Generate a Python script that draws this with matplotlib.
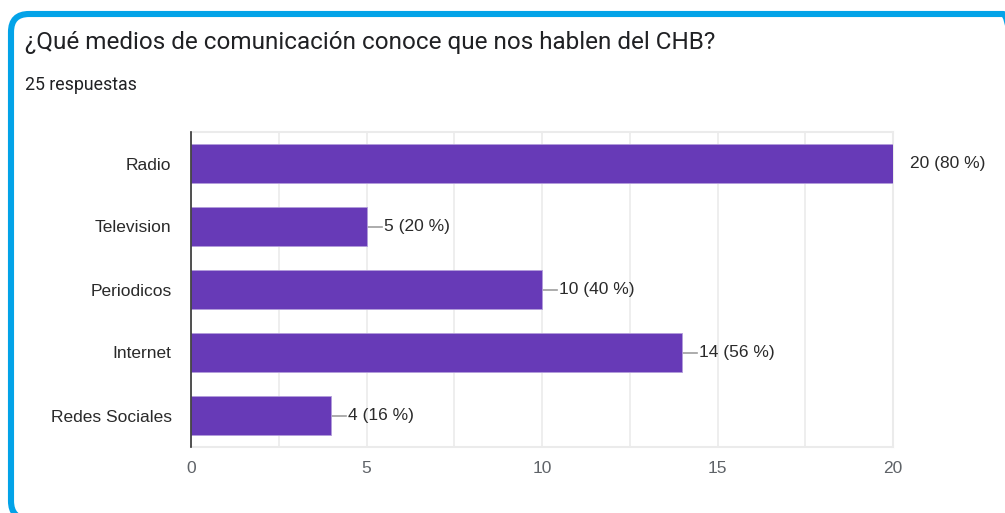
import matplotlib.pyplot as plt
from matplotlib.patches import FancyBboxPatch
from matplotlib.transforms import IdentityTransform

# data
categories = ["Radio", "Television", "Periodicos", "Internet", "Redes Sociales"]
counts = [20, 5, 10, 14, 4]
total = 25
xticks = [0, 5, 10, 15, 20]
xmax = 20

purple = "#673ab7"
text_dark = "#202124"
tick_grey = "#5f6368"

fig = plt.figure(figsize=(10.05, 5.13), dpi=100)
W, H = 1005, 513

# blue card border (pixel coords, origin bottom-left), runs off right/bottom
card = FancyBboxPatch((11, H - 519), 1010, 505,
                      boxstyle="round,pad=0,rounding_size=18",
                      transform=IdentityTransform(), fill=False,
                      edgecolor="#03a3e8", linewidth=4.4, clip_on=False)
fig.patches.append(card)

fig.text(25 / W, 1 - 42 / H, "¿Qué medios de comunicación conoce que nos hablen del CHB?",
         fontsize=17.5, color=text_dark, family="Roboto", va="center", ha="left")
fig.text(25 / W, 1 - 85 / H, f"{total} respuestas", fontsize=12.8, color=text_dark,
         family="Roboto", va="center", ha="left")

ax = fig.add_axes([191 / W, 1 - 447 / H, 702 / W, 315 / H])
ypos = list(range(len(categories)))
ax.barh(ypos, counts, height=0.61, color=purple, edgecolor="#b39ddb", linewidth=0.6, zorder=3)
ax.set_ylim(len(categories) - 0.5, -0.5)
ax.set_xlim(0, xmax)
ax.set_yticks(ypos)
ax.set_yticklabels(categories, family="Liberation Sans", fontsize=12.5, color="#2a2a2a")
ax.set_xticks(xticks)
ax.set_xticklabels([str(t) for t in xticks], family="Liberation Sans", fontsize=12.5, color=tick_grey)
ax.set_xticks([2.5, 7.5, 12.5, 17.5], minor=True)
ax.tick_params(axis="both", which="both", length=0)
ax.tick_params(axis="y", pad=14)
ax.tick_params(axis="x", pad=10)
ax.grid(axis="x", which="both", color="#ebebeb", linewidth=1.2, zorder=0)

for side in ["top", "right", "bottom"]:
    ax.spines[side].set_color("#ebebeb")
    ax.spines[side].set_linewidth(1.5)
ax.spines["left"].set_color("#333333")
ax.spines["left"].set_linewidth(1.2)
ax.spines["left"].set_zorder(4)

# value labels with short leader lines
px = xmax / 702  # data units per pixel
for y, c in zip(ypos, counts):
    if c < xmax:
        ax.plot([c, c + 15 * px], [y, y], color="#9e9e9e", linewidth=1.2, zorder=2, clip_on=False)
    ax.text(c + 17 * px, y, f"{c} ({round(100 * c / total)} %)", va="center", ha="left",
            family="Liberation Sans", fontsize=12.5, color="#2a2a2a")

fig.savefig("out.png", dpi=100)
